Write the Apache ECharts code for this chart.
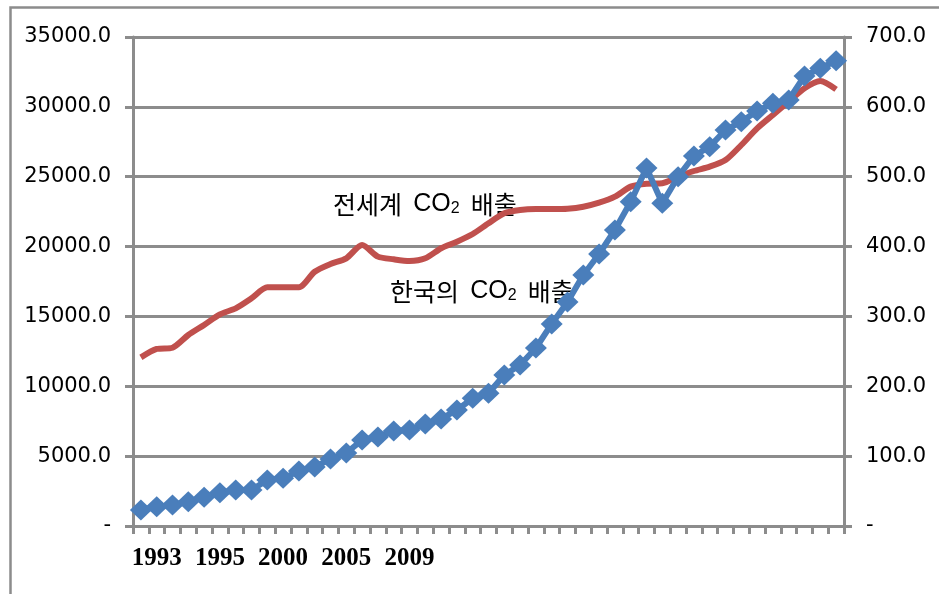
<!DOCTYPE html>
<html>
<head>
<meta charset="utf-8">
<script src="https://cdn.jsdelivr.net/npm/echarts@6/dist/echarts.min.js"></script>
<style>
  html, body { margin: 0; padding: 0; background: #fff; }
  #main { width: 939px; height: 594px; }
</style>
</head>
<body>
<div id="main"></div>
<script>
// 45 data points; only a few positions carry a label on the category axis
var categories = [];
for (var k = 0; k < 45; k++) categories.push(String(k));

var xTickLabels = ['', '1993', '', '', '', '1995', '', '', '', '2000', '', '', '', '2005', '', '', '', '2009',
  '', '', '', '', '', '', '', '', '', '', '', '', '', '', '', '', '', '', '', '', '', '', '', '', '', '', ''];

// 전세계 CO2 배출 (left axis)
var worldCO2 = [12070, 12670, 12760, 13670, 14390, 15150, 15580, 16300, 17080, 17080,
  17080, 18200, 18750, 19160, 20110, 19280, 19090, 18970, 19160, 19880,
  20350, 20900, 21670, 22380, 22620, 22690, 22690, 22710, 22850, 23140,
  23570, 24290, 24500, 24530, 25000, 25410, 25720, 26190, 27270, 28460,
  29420, 30370, 31330, 31850, 31250];

// 한국의 CO2 배출 (right axis)
var koreaCO2 = [22.9, 27.6, 30.1, 34.8, 41.0, 47.7, 51.5, 51.5, 65.8, 68.2,
  78.7, 84.5, 95.9, 104.5, 123.1, 127.4, 136.0, 137.4, 146.0, 153.2,
  166.1, 182.8, 190.0, 216.2, 230.5, 254.8, 289.2, 320.7, 359.3, 389.4,
  423.7, 464.2, 512.5, 462.0, 500.0, 529.7, 543.0, 566.9, 578.8, 594.0,
  605.0, 609.8, 644.2, 655.2, 666.0];

var leftTicks = { min: 0, max: 35000, step: 5000 };
var rightTicks = { min: 0, max: 700, step: 100 };

var gray = '#8c8c8c';

function fmt (v) {
  return v === 0 ? '-' : v.toFixed(1);
}

var myChart = echarts.init(document.getElementById('main'));

var labelRich = {
  k: { fontFamily: 'Noto Sans CJK KR', fontSize: 25, fill: '#000' },
  c: { fontFamily: 'Liberation Sans', fontSize: 25, fill: '#000' },
  s: { fontFamily: 'Liberation Sans', fontSize: 16, fill: '#000', padding: [9, 0, 0, 0] }
};

var option = {
  backgroundColor: '#fff',
  animation: false,
  grid: { left: 133, right: 95, top: 37, bottom: 68 },
  xAxis: {
    type: 'category',
    data: categories,
    boundaryGap: true,
    axisLine: { lineStyle: { color: gray, width: 3 } },
    axisTick: { show: true, interval: 0, length: 8, lineStyle: { color: gray, width: 3 } },
    axisLabel: {
      interval: 0,
      margin: 20,
      color: '#000',
      fontFamily: 'Liberation Serif',
      fontWeight: 'bold',
      fontSize: 25,
      formatter: function (v, i) { return xTickLabels[i]; }
    },
    splitLine: { show: false }
  },
  yAxis: [
    {
      type: 'value',
      min: leftTicks.min,
      max: leftTicks.max,
      interval: leftTicks.step,
      axisLine: { show: true, lineStyle: { color: gray, width: 3 } },
      axisTick: { show: true, length: 8, lineStyle: { color: gray, width: 3 } },
      axisLabel: { margin: 22, color: '#000', fontFamily: 'DejaVu Sans', fontSize: 21, formatter: fmt },
      splitLine: { lineStyle: { color: gray, width: 3 } }
    },
    {
      type: 'value',
      min: rightTicks.min,
      max: rightTicks.max,
      interval: rightTicks.step,
      position: 'right',
      axisLine: { show: true, lineStyle: { color: gray, width: 3 } },
      axisTick: { show: true, length: 8, lineStyle: { color: gray, width: 3 } },
      axisLabel: { margin: 22, color: '#000', fontFamily: 'DejaVu Sans', fontSize: 21, formatter: fmt },
      splitLine: { show: false }
    }
  ],
  series: [
    {
      name: '전세계 CO2 배출',
      type: 'line',
      yAxisIndex: 0,
      data: worldCO2,
      smooth: 0.25,
      showSymbol: false,
      lineStyle: { color: '#c0504d', width: 6 },
      itemStyle: { color: '#c0504d' }
    },
    {
      name: '한국의 CO2 배출',
      type: 'line',
      yAxisIndex: 1,
      data: koreaCO2,
      symbol: 'diamond',
      symbolSize: [22, 21],
      lineStyle: { color: '#4a7ebb', width: 6 },
      itemStyle: { color: '#4a7ebb' }
    }
  ],
  graphic: [
    {
      type: 'rect',
      left: 8, top: 5,
      shape: { width: 1000, height: 700 },
      style: { fill: 'none', stroke: gray, lineWidth: 2.5 },
      silent: true
    },
    {
      type: 'text',
      left: 333, top: 192,
      style: {
        text: '{k|전세계}  {c|CO}{s|2}  {k|배출}',
        rich: labelRich,
        fill: '#000', fontSize: 25, fontFamily: 'Noto Sans CJK KR'
      }
    },
    {
      type: 'text',
      left: 390, top: 279,
      style: {
        text: '{k|한국의}  {c|CO}{s|2}  {k|배출}',
        rich: labelRich,
        fill: '#000', fontSize: 25, fontFamily: 'Noto Sans CJK KR'
      }
    }
  ]
};

myChart.setOption(option);
</script>
</body>
</html>
